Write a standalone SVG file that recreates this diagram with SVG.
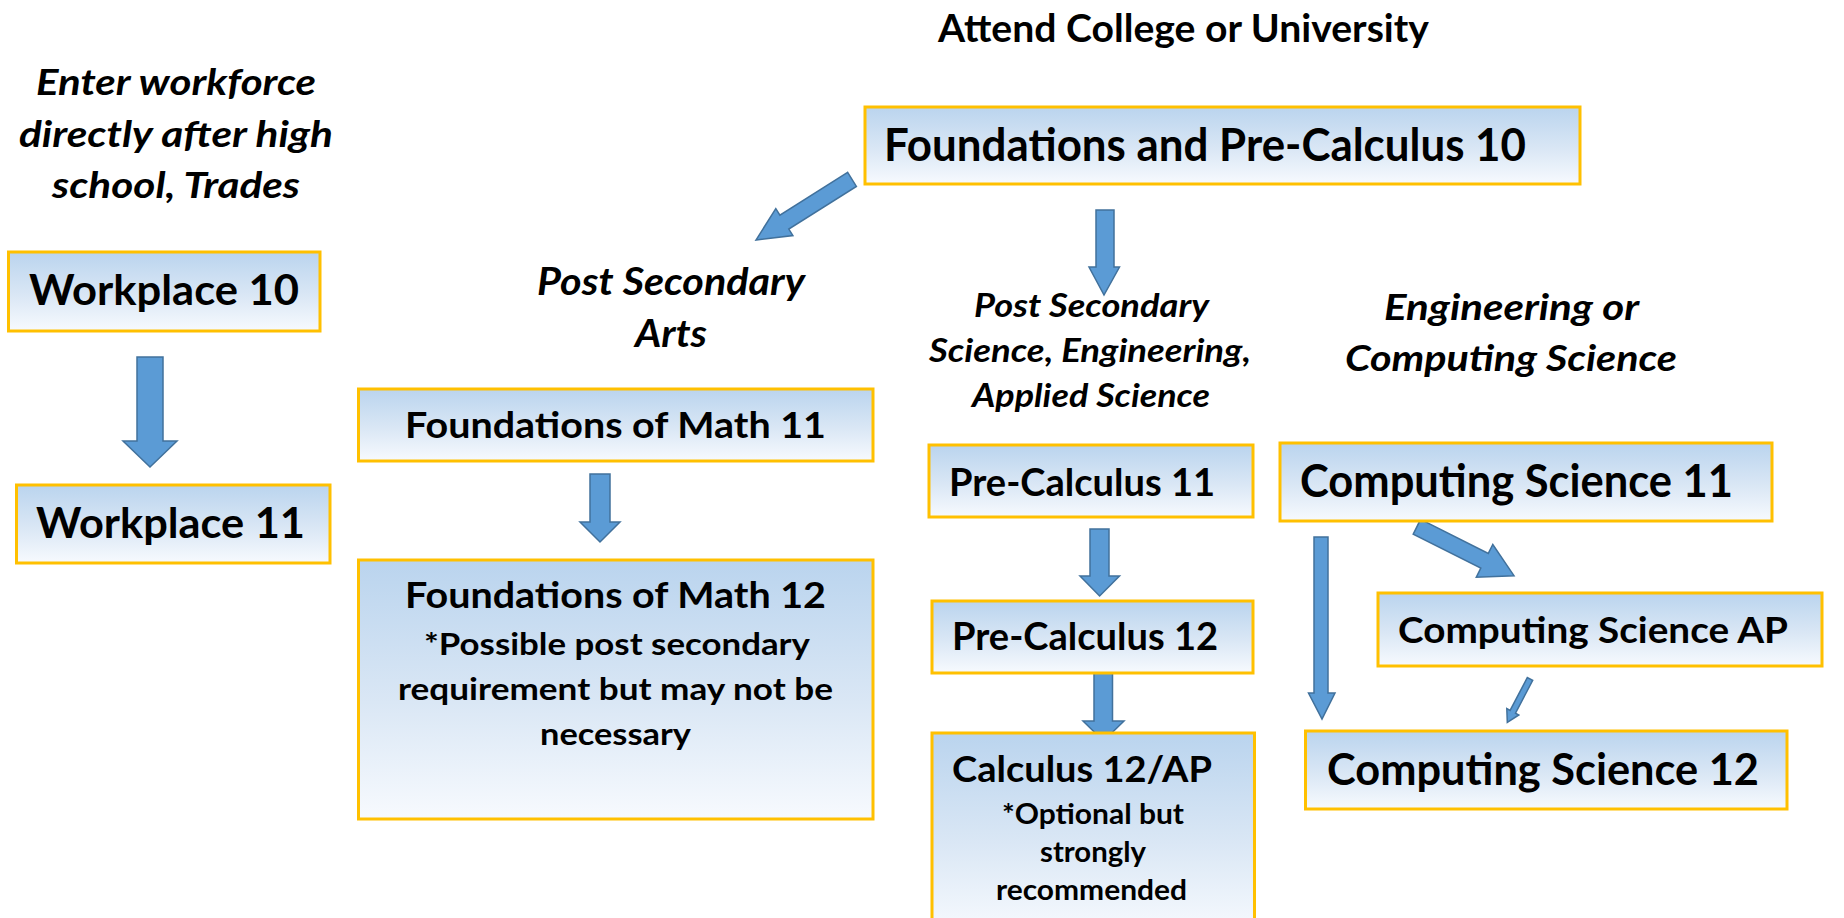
<svg xmlns="http://www.w3.org/2000/svg" width="1844" height="918" viewBox="0 0 1844 918">
<defs>
<linearGradient id="boxfill" x1="0" y1="0" x2="0" y2="1">
<stop offset="0" stop-color="#BAD4EE"/>
<stop offset="0.55" stop-color="#DAE7F5"/>
<stop offset="1" stop-color="#F7FAFE"/>
</linearGradient>
<style>
.box{fill:url(#boxfill);stroke:#FFC000;stroke-width:3}
.arrow{fill:#5B9BD5;stroke:#41719C;stroke-width:1.5;stroke-linejoin:miter}
.t{font-family:Lato,"Liberation Sans",sans-serif;font-weight:bold;fill:#000}
.i{font-family:Lato,"Liberation Sans",sans-serif;font-weight:bold;font-style:italic;fill:#000}
</style>
</defs>
<rect width="1844" height="918" fill="#FFFFFF"/>

<g id="connectors">
<polygon class="arrow" points="137,357 163,357 163,441 177,441 150,467 123,441 137,441"/>
<polygon class="arrow" points="590,474 610,474 610,522 620,522 600,542 580,522 590,522"/>
<polygon class="arrow" points="1096,210 1114,210 1114,267 1119.5,267 1104,295 1089,267 1096,267"/>
<polygon class="arrow" points="1090,529 1109,529 1109,576 1119.5,576 1099.6,596 1080,576 1090,576"/>
<polygon class="arrow" points="1094,673 1112.5,673 1112.5,721 1124,721 1103.5,741 1083,721 1094,721"/>
<polygon class="arrow" points="1314,537 1328,537 1328,693 1335,693 1322,719 1308.5,693 1314,693"/>
<polygon class="arrow" points="847.6,172.4 779.9,215.1 775.8,208.6 756,240 792.9,235.6 788.8,229.1 856.4,186.4"/>
<polygon class="arrow" points="1420.6,519.3 1488.3,553.4 1492.8,544.5 1514,575.7 1476.3,577.2 1480.8,568.2 1413.2,534.1"/>
<polygon class="arrow" points="1527.3,677.6 1510.1,710.4 1506.8,708.6 1507.3,722.3 1518.8,715 1515.5,713.2 1532.7,680.4"/>
</g>

<g id="labels">
<text id="attend" class="t" x="938" y="42" font-size="39" textLength="491" lengthAdjust="spacingAndGlyphs">Attend College or University</text>
<g id="workforce-label">
<text class="i" x="36" y="95" font-size="37" textLength="280" lengthAdjust="spacingAndGlyphs">Enter workforce</text>
<text class="i" x="19" y="147" font-size="37" textLength="314" lengthAdjust="spacingAndGlyphs">directly after high</text>
<text class="i" x="52" y="198" font-size="37" textLength="248" lengthAdjust="spacingAndGlyphs">school, Trades</text>
</g>
<g id="arts-label">
<text class="i" x="537" y="295" font-size="38" textLength="268" lengthAdjust="spacingAndGlyphs">Post Secondary</text>
<text class="i" x="635" y="347" font-size="38" textLength="72" lengthAdjust="spacingAndGlyphs">Arts</text>
</g>
<g id="science-label">
<text class="i" x="974" y="317" font-size="33" textLength="235" lengthAdjust="spacingAndGlyphs">Post Secondary</text>
<text class="i" x="929" y="362" font-size="33" textLength="322" lengthAdjust="spacingAndGlyphs">Science, Engineering,</text>
<text class="i" x="972" y="407" font-size="33" textLength="238" lengthAdjust="spacingAndGlyphs">Applied Science</text>
</g>
<g id="engineering-label">
<text class="i" x="1384" y="320" font-size="37" textLength="255" lengthAdjust="spacingAndGlyphs">Engineering or</text>
<text class="i" x="1345" y="371" font-size="37" textLength="332" lengthAdjust="spacingAndGlyphs">Computing Science</text>
</g>
</g>

<g id="workplace10">
<rect class="box" x="8.5" y="252" width="311.5" height="79"/>
<text class="t" x="29" y="305" font-size="42" textLength="270" lengthAdjust="spacingAndGlyphs">Workplace 10</text>
</g>
<g id="workplace11">
<rect class="box" x="16.5" y="485" width="313.5" height="78"/>
<text class="t" x="36" y="538" font-size="42" textLength="269" lengthAdjust="spacingAndGlyphs">Workplace 11</text>
</g>
<g id="fpc10">
<rect class="box" x="865" y="107" width="715" height="77"/>
<text class="t" x="884" y="161" font-size="45" textLength="642" lengthAdjust="spacingAndGlyphs">Foundations and Pre-Calculus 10</text>
</g>
<g id="fom11">
<rect class="box" x="358.5" y="389" width="514.5" height="72"/>
<text class="t" x="405" y="438" font-size="37" textLength="421" lengthAdjust="spacingAndGlyphs">Foundations of Math 11</text>
</g>
<g id="fom12">
<rect class="box" x="358.5" y="560" width="514.5" height="259"/>
<text class="t" x="405" y="608" font-size="37" textLength="421" lengthAdjust="spacingAndGlyphs">Foundations of Math 12</text>
<text class="t" x="424" y="655" font-size="30" textLength="386" lengthAdjust="spacingAndGlyphs">*Possible post secondary</text>
<text class="t" x="398" y="700" font-size="30" textLength="435" lengthAdjust="spacingAndGlyphs">requirement but may not be</text>
<text class="t" x="540" y="745" font-size="30" textLength="151" lengthAdjust="spacingAndGlyphs">necessary</text>
</g>
<g id="precalc11">
<rect class="box" x="929" y="445" width="324" height="72"/>
<text class="t" x="949" y="496" font-size="38" textLength="266" lengthAdjust="spacingAndGlyphs">Pre-Calculus 11</text>
</g>
<g id="precalc12">
<rect class="box" x="932" y="601" width="321" height="72"/>
<text class="t" x="952" y="650" font-size="38" textLength="266" lengthAdjust="spacingAndGlyphs">Pre-Calculus 12</text>
</g>
<g id="calculus12">
<rect class="box" x="932" y="733" width="322.5" height="200"/>
<text class="t" x="952" y="782" font-size="36" textLength="260" lengthAdjust="spacingAndGlyphs">Calculus 12/AP</text>
<text class="t" x="1002" y="824" font-size="29" textLength="182" lengthAdjust="spacingAndGlyphs">*Optional but</text>
<text class="t" x="1040" y="862" font-size="29" textLength="106" lengthAdjust="spacingAndGlyphs">strongly</text>
<text class="t" x="996" y="900" font-size="29" textLength="191" lengthAdjust="spacingAndGlyphs">recommended</text>
</g>
<g id="cs11">
<rect class="box" x="1280" y="443" width="492" height="78"/>
<text class="t" x="1300" y="497" font-size="45" textLength="433" lengthAdjust="spacingAndGlyphs">Computing Science 11</text>
</g>
<g id="csap">
<rect class="box" x="1378" y="593" width="444" height="73"/>
<text class="t" x="1398" y="643" font-size="37" textLength="390" lengthAdjust="spacingAndGlyphs">Computing Science AP</text>
</g>
<g id="cs12">
<rect class="box" x="1305.5" y="731" width="481.5" height="78"/>
<text class="t" x="1327" y="785" font-size="43" textLength="432" lengthAdjust="spacingAndGlyphs">Computing Science 12</text>
</g>
</svg>
